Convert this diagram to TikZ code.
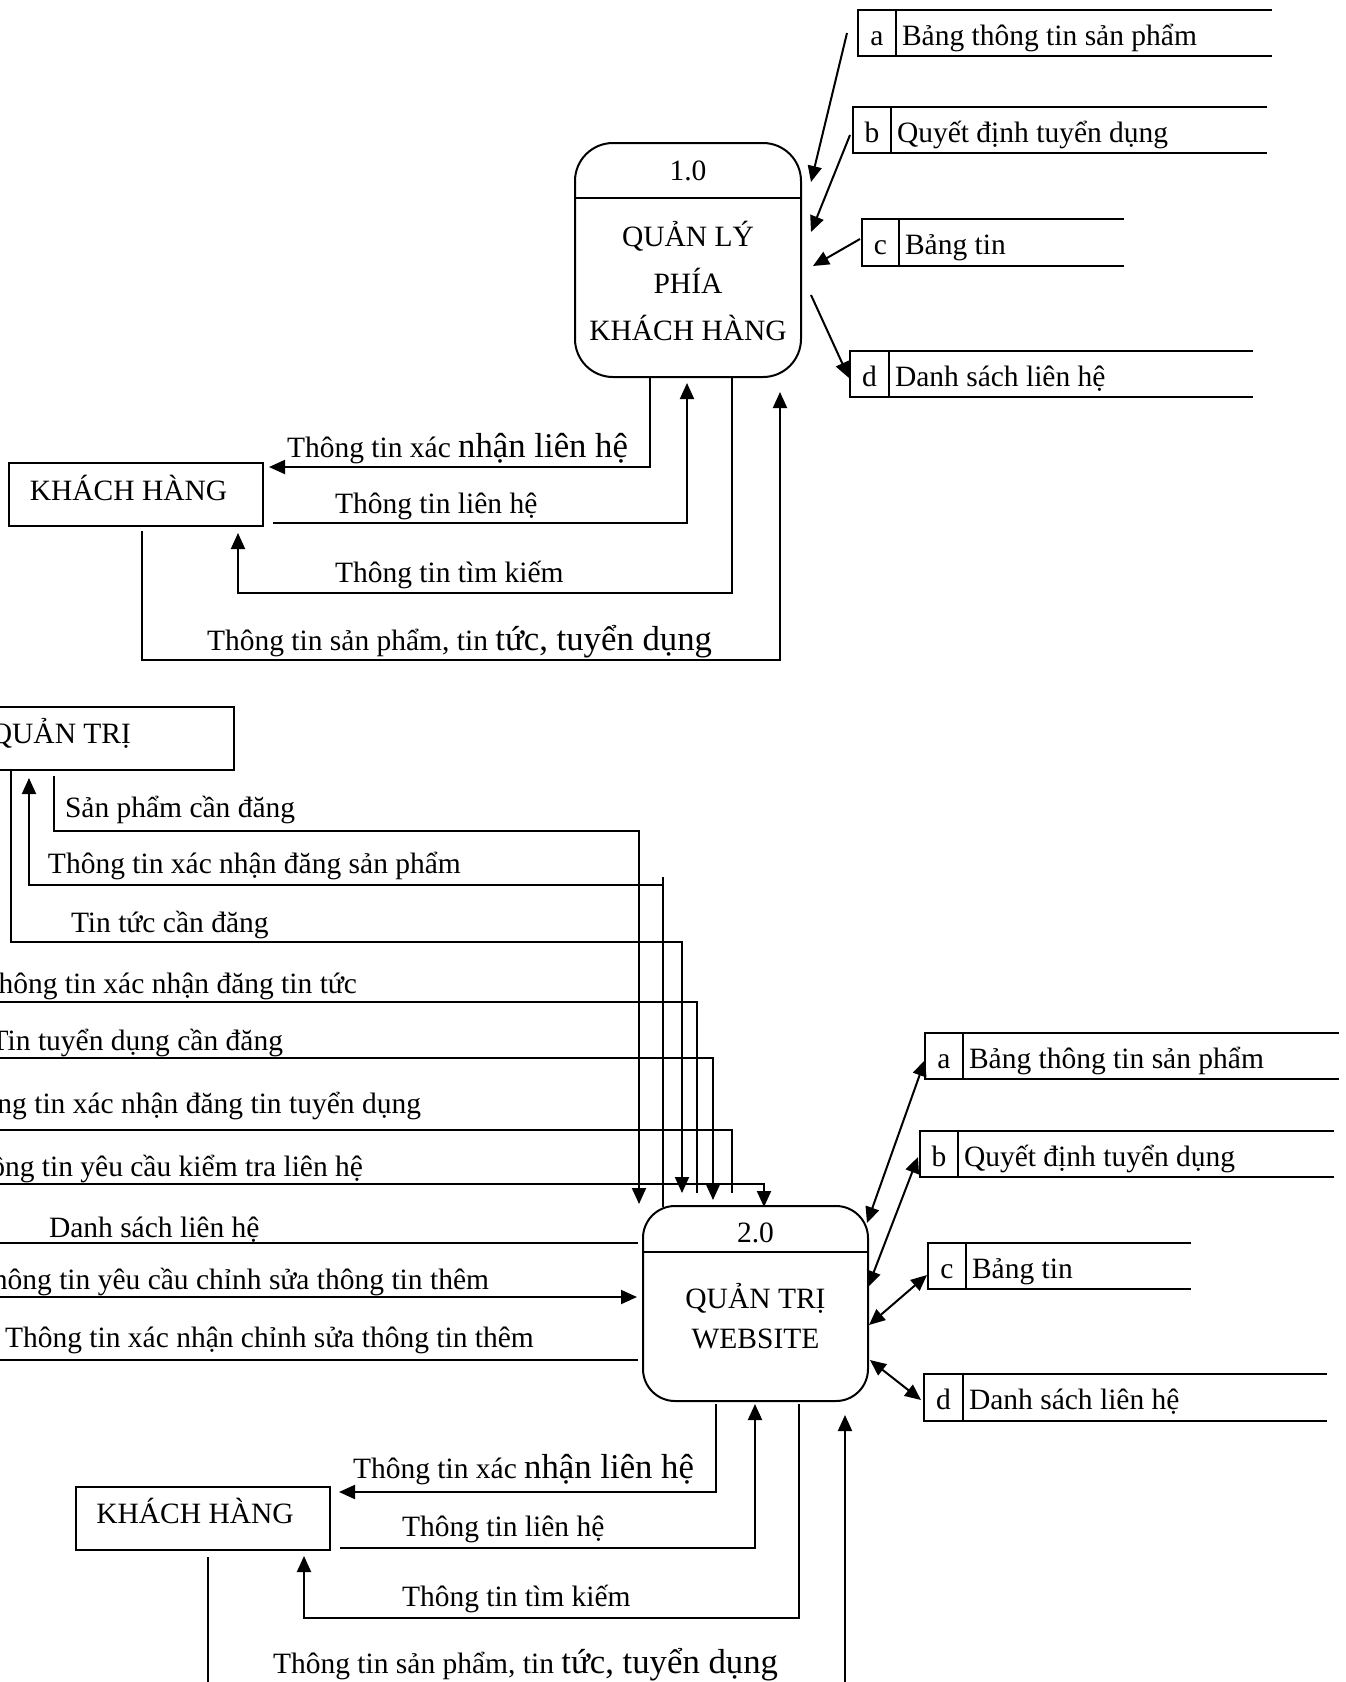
\documentclass[tikz,border=0pt]{standalone}
\usepackage{fontspec}
\setmainfont{Liberation Serif}
\usetikzlibrary{arrows.meta}
\newcommand{\dstore}[8]{%
  \draw[plain] (#4,#5) -- (#2,#5) -- (#2,#6) -- (#4,#6);
  \draw[plain] (#3,#5) -- (#3,#6);
  \pgfmathsetmacro\sbase{(#5+#6)/2+12}
  \pgfmathsetmacro\smid{(#2+#3)/2}
  \node[lbl,anchor=base] (#1-id) at (\smid,\sbase) {#7};
  \node[lbl,anchor=base west] (#1) at (#3+6,\sbase) {#8};
}
\newcommand{\bigpart}[1]{{\fontsize{13.9}{16}\selectfont #1}}
\begin{document}
\begin{tikzpicture}[x=0.4pt,y=-0.4pt,
  every node/.style={inner sep=0pt,outer sep=0pt},
  lbl/.style={font=\fontsize{11.8}{14}\selectfont},
  plain/.style={line width=0.8pt},
  flow/.style={line width=0.8pt,-{Triangle[length=6.4pt,width=5.6pt]}},
  both/.style={line width=0.8pt,{Triangle[length=6.4pt,width=5.6pt]}-{Triangle[length=6.4pt,width=5.6pt]}},
  procbox/.style={draw,line width=0.8pt},
  entbox/.style={draw,line width=0.8pt,minimum height=25.2pt}]
\useasboundingbox (0,0) rectangle (1346,1682);
\fill[white] (0,0) rectangle (1346,1682);
\clip (0,0) rectangle (1346,1682);

% ---------- Process 1.0 ----------
\node[procbox,rounded corners=15.2pt,minimum width=90.4pt,minimum height=93.6pt] (p1) at (688,260) {};
\draw[plain] (575,198) -- (801,198);
\node[lbl,anchor=base] (p1-id) at (688,180) {1.0};
\node[lbl,anchor=base] (p1-t1) at (688,246) {QUẢN LÝ};
\node[lbl,anchor=base] (p1-t2) at (688,293) {PHÍA};
\node[lbl,anchor=base] (p1-t3) at (688,340) {KHÁCH HÀNG};

% stores top
\dstore{ta}{858}{896}{1272}{10}{56}{a}{Bảng thông tin sản phẩm}
\dstore{tb}{853}{891}{1267}{107}{153}{b}{Quyết định tuyển dụng}
\dstore{tc}{862}{899}{1124}{219}{266}{c}{Bảng tin}
\dstore{td}{850}{889}{1253}{351}{397}{d}{Danh sách liên hệ}

\draw[flow] (847,33) -- (811,182);
\draw[flow] (850,135) -- (811,232);
\draw[flow] (860,239) -- (813,266);
\draw[flow] (811,295) -- (849,378);

% ---------- Khach hang 1 ----------
\node[entbox,minimum width=101.6pt] (kh1) at (136,494.5) {};
\node[lbl,anchor=base] (kh1-t) at (128.5,500) {KHÁCH HÀNG};

\draw[flow] (650,377) -- (650,467) -- (269,467);
\node[lbl,anchor=base west] (l1) at (287,457) {Thông tin xác \bigpart{nhận liên hệ}};
\draw[flow] (273,523) -- (687,523) -- (687,383);
\node[lbl,anchor=base west] (l2) at (335,513) {Thông tin liên hệ};
\draw[flow] (732,377) -- (732,593) -- (238,593) -- (238,533);
\node[lbl,anchor=base west] (l3) at (335,582) {Thông tin tìm kiếm};
\draw[flow] (142,531) -- (142,660) -- (780,660) -- (780,392);
\node[lbl,anchor=base west] (l4) at (207,650) {Thông tin sản phẩm, tin \bigpart{tức, tuyển dụng}};

% ---------- Quan tri ----------
\node[entbox,minimum width=106pt] (qt) at (101.5,738) {};
\node[lbl,anchor=base east] (qt-t) at (131,743) {QUẢN TRỊ};

\draw[flow] (54,776) -- (54,831) -- (639,831) -- (639,1204);
\node[lbl,anchor=base west] (m1) at (65,817) {Sản phẩm cần đăng};
\draw[plain] (663,1207) -- (663,877);
\draw[flow] (663,885) -- (29,885) -- (29,778);
\node[lbl,anchor=base west] (m2) at (48,873) {Thông tin xác nhận đăng sản phẩm};
\draw[flow] (11,769) -- (11,942) -- (682,942) -- (682,1193);
\node[lbl,anchor=base west] (m3) at (71,932) {Tin tức cần đăng};
\draw[plain] (697,1193) -- (697,1002) -- (-10,1002);
\node[lbl,anchor=base east] (m4) at (357,993) {Thông tin xác nhận đăng tin tức};
\draw[flow] (-10,1058) -- (713,1058) -- (713,1200);
\node[lbl,anchor=base east] (m5) at (283,1050) {Tin tuyển dụng cần đăng};
\draw[plain] (732,1193) -- (732,1130) -- (-10,1130);
\node[lbl,anchor=base east] (m6) at (421,1113) {Thông tin xác nhận đăng tin tuyển dụng};
\draw[flow] (-10,1184) -- (764,1184) -- (764,1207);
\node[lbl,anchor=base east] (m7) at (363,1176) {Thông tin yêu cầu kiểm tra liên hệ};
\draw[plain] (638,1243) -- (-10,1243);
\node[lbl,anchor=base west] (m8) at (49,1237) {Danh sách liên hệ};
\draw[flow] (-10,1297) -- (637,1297);
\node[lbl,anchor=base east] (m9) at (489,1289) {Thông tin yêu cầu chỉnh sửa thông tin thêm};
\draw[plain] (638,1360) -- (-10,1360);
\node[lbl,anchor=base west] (m10) at (5,1347) {Thông tin xác nhận chỉnh sửa thông tin thêm};

% ---------- Process 2.0 ----------
\node[procbox,rounded corners=12.8pt,minimum width=90pt,minimum height=78pt] (p2) at (755.5,1303.5) {};
\draw[plain] (643,1252) -- (868,1252);
\node[lbl,anchor=base] (p2-id) at (755.5,1242) {2.0};
\node[lbl,anchor=base] (p2-t1) at (755.5,1308) {QUẢN TRỊ};
\node[lbl,anchor=base] (p2-t2) at (755.5,1348) {WEBSITE};

% stores bottom
\dstore{ba}{925}{963}{1339}{1033}{1079}{a}{Bảng thông tin sản phẩm}
\dstore{bb}{920}{958}{1334}{1131}{1177}{b}{Quyết định tuyển dụng}
\dstore{bc}{928}{966}{1191}{1243}{1289}{c}{Bảng tin}
\dstore{bd}{924}{963}{1327}{1374}{1421}{d}{Danh sách liên hệ}

\draw[both] (867,1223) -- (925,1060);
\draw[both] (868,1287) -- (918,1157);
\draw[both] (869,1325) -- (927,1275);
\draw[both] (870,1360) -- (921,1400);

% ---------- Khach hang 2 ----------
\node[entbox,minimum width=101.6pt] (kh2) at (203,1518.5) {};
\node[lbl,anchor=base] (kh2-t) at (195,1523) {KHÁCH HÀNG};

\draw[flow] (716,1404) -- (716,1492) -- (339,1492);
\node[lbl,anchor=base west] (n1) at (353,1478) {Thông tin xác \bigpart{nhận liên hệ}};
\draw[flow] (340,1548) -- (755,1548) -- (755,1404);
\node[lbl,anchor=base west] (n2) at (402,1536) {Thông tin liên hệ};
\draw[flow] (799,1404) -- (799,1618) -- (304,1618) -- (304,1556);
\node[lbl,anchor=base west] (n3) at (402,1606) {Thông tin tìm kiếm};
\draw[plain] (208,1557) -- (208,1700);
\draw[flow] (845,1700) -- (845,1415);
\node[lbl,anchor=base west] (n4) at (273,1673) {Thông tin sản phẩm, tin \bigpart{tức, tuyển dụng}};
\end{tikzpicture}
\end{document}
